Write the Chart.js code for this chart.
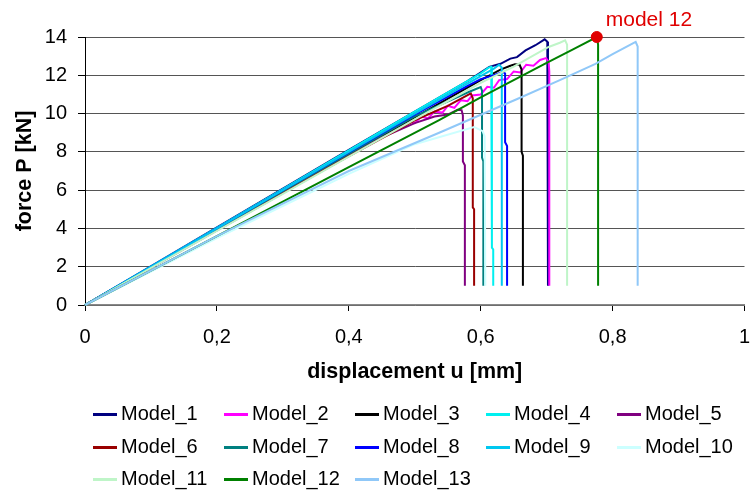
<!DOCTYPE html>
<html>
<head>
<meta charset="utf-8">
<script src="https://cdn.jsdelivr.net/npm/chart.js@4.4.1/dist/chart.umd.min.js"></script>
<style>
  body { margin: 0; background: #fff; }
  #wrap { position: relative; width: 751px; height: 490px; }
  #legend { position: absolute; left: 0; top: 0; font: 20px "Liberation Sans", Arial, sans-serif; color: #000; }
  .item { position: absolute; height: 24px; line-height: 24px; white-space: nowrap; }
  .item i { display: inline-block; width: 24px; height: 3px; vertical-align: middle; margin-right: 4px; }
</style>
</head>
<body>
<div id="wrap">
  <canvas id="chart" width="751" height="490"></canvas>
  <div id="legend"></div>
</div>
<script>
// displacement u [mm], force P [kN]
var MODEL_1 = [[0,0],[0.2,4.05],[0.4,8.1],[0.5,10.1],[0.58,11.7],[0.613,12.44],[0.63,12.6],[0.645,12.87],[0.655,12.95],[0.668,13.3],[0.683,13.57],[0.697,13.88],[0.701,13.75],[0.702,13.3],[0.702,1.0]];
var MODEL_2 = [[0,0],[0.3,5.85],[0.42,8.3],[0.45,8.85],[0.47,9.1],[0.49,9.6],[0.5,9.5],[0.51,9.85],[0.52,9.75],[0.53,10.1],[0.542,10.05],[0.55,10.4],[0.56,10.3],[0.57,10.7],[0.58,10.65],[0.587,10.95],[0.6,11.0],[0.61,11.4],[0.62,11.35],[0.628,11.75],[0.64,11.8],[0.65,12.2],[0.66,12.15],[0.669,12.55],[0.68,12.5],[0.69,12.8],[0.699,12.9],[0.703,12.7],[0.704,12.2],[0.704,1.0]];
var MODEL_3 = [[0,0],[0.3,5.9],[0.5,9.8],[0.6,11.75],[0.63,12.3],[0.645,12.5],[0.652,12.58],[0.659,12.55],[0.662,12.3],[0.662,8.0],[0.664,7.8],[0.664,1.0]];
var MODEL_4 = [[0,0],[0.3,6.05],[0.5,10.1],[0.6,12.1],[0.612,12.4],[0.616,12.44],[0.617,12.2],[0.617,3.0],[0.619,2.9],[0.619,1.0]];
var MODEL_5 = [[0,0],[0.3,5.85],[0.45,8.75],[0.5,9.5],[0.53,9.85],[0.55,9.95],[0.565,10.2],[0.571,10.18],[0.573,9.9],[0.573,7.5],[0.576,7.3],[0.576,1.0]];
var MODEL_6 = [[0,0],[0.3,5.9],[0.5,9.65],[0.55,10.4],[0.585,11.05],[0.588,10.8],[0.588,5.1],[0.59,5.0],[0.59,1.0]];
var MODEL_7 = [[0,0],[0.3,5.95],[0.5,9.85],[0.58,11.1],[0.6,11.39],[0.602,11.2],[0.602,7.7],[0.604,7.5],[0.604,1.0]];
var MODEL_8 = [[0,0],[0.3,6.0],[0.5,9.95],[0.58,11.45],[0.6,11.8],[0.62,12.0],[0.634,12.18],[0.637,12.1],[0.637,8.5],[0.64,8.3],[0.64,1.0]];
var MODEL_9 = [[0,0],[0.3,6.0],[0.5,10.0],[0.6,11.95],[0.62,12.35],[0.628,12.55],[0.632,12.4],[0.632,1.0]];
var MODEL_10 = [[0,0],[0.2,3.5],[0.4,6.85],[0.5,8.4],[0.59,9.3],[0.603,9.08],[0.606,8.8],[0.607,1.0]];
var MODEL_11 = [[0,0],[0.3,5.8],[0.5,9.7],[0.6,11.6],[0.65,12.45],[0.703,13.48],[0.72,13.7],[0.728,13.83],[0.731,13.6],[0.731,1.0]];
var MODEL_12 = [[0,0],[0.2,3.6],[0.4,7.2],[0.537,9.66],[0.6,10.85],[0.65,11.75],[0.7,12.65],[0.74,13.35],[0.776,14.0],[0.778,13.6],[0.778,1.0]];
var MODEL_13 = [[0,0],[0.2,3.6],[0.4,7.0],[0.537,9.0],[0.658,10.8],[0.72,11.75],[0.774,12.6],[0.8,13.1],[0.835,13.74],[0.838,13.5],[0.838,1.0]];

var SERIES = [MODEL_1, MODEL_2, MODEL_3, MODEL_4, MODEL_5, MODEL_6, MODEL_7, MODEL_8, MODEL_9, MODEL_10, MODEL_11, MODEL_12, MODEL_13];
var NAMES = ['Model_1','Model_2','Model_3','Model_4','Model_5','Model_6','Model_7','Model_8','Model_9','Model_10','Model_11','Model_12','Model_13'];
var COLORS = ['#000080','#ff00ff','#000000','#00f0f0','#800080','#990000','#008080','#0000ff','#00c8f0','#ccffff','#bff5c8','#008000','#90c8f8'];

var PEAK_12 = [0.776, 14.0];
var PEAK_LABEL = 'model 12';

var FONT = '"Liberation Sans", Arial, sans-serif';

function comma(v) {
  return String(Math.round(v * 10) / 10).replace('.', ',');
}

var datasets = SERIES.map(function(s, i) {
  return {
    label: NAMES[i],
    data: s.map(function(p) { return {x: p[0], y: p[1]}; }),
    borderColor: COLORS[i],
    borderWidth: 2,
    pointRadius: 0,
    tension: 0,
    fill: false,
    clip: false,
    order: NAMES.length - i
  };
});

// red marker on the highest peak
datasets.push({
  label: PEAK_LABEL,
  data: [{x: PEAK_12[0], y: PEAK_12[1]}],
  showLine: false,
  pointRadius: 5.5,
  pointBackgroundColor: '#e00000',
  pointBorderColor: '#e00000',
  clip: false,
  order: -1
});

var peakLabel = {
  id: 'peakLabel',
  afterDatasetsDraw: function(chart) {
    var ctx = chart.ctx,
        px = chart.scales.x.getPixelForValue(PEAK_12[0]),
        py = chart.scales.y.getPixelForValue(PEAK_12[1]);
    ctx.save();
    ctx.font = '21px ' + FONT;
    ctx.fillStyle = '#e00000';
    ctx.textAlign = 'left';
    ctx.textBaseline = 'middle';
    ctx.fillText(PEAK_LABEL, px + 9, py - 17);
    ctx.restore();
  }
};

new Chart(document.getElementById('chart'), {
  type: 'line',
  data: { datasets: datasets },
  options: {
    responsive: false,
    animation: false,
    layout: { padding: { top: 37, right: 5, bottom: 105, left: 0 } },
    plugins: { legend: { display: false }, tooltip: { enabled: false } },
    scales: {
      x: {
        type: 'linear',
        min: 0,
        max: 1,
        ticks: { stepSize: 0.2, color: '#000', font: { size: 20, family: FONT }, padding: 14, maxRotation: 0, callback: comma },
        grid: { drawOnChartArea: false, tickLength: 6, tickColor: '#000' },
        border: { color: '#888', width: 1.5 },
        title: { display: true, text: 'displacement u [mm]', color: '#000', font: { size: 21.5, weight: 'bold', family: FONT }, padding: { top: 0, bottom: 0 } },
        afterFit: function(s) { s.height = 80; s.paddingLeft = 0; s.paddingRight = 0; }
      },
      y: {
        min: 0,
        max: 14,
        ticks: { stepSize: 2, color: '#000', font: { size: 20, family: FONT }, padding: 11 },
        grid: { color: '#555', tickLength: 7, tickColor: '#000' },
        border: { color: '#000', width: 1 },
        title: { display: true, text: 'force P [kN]', color: '#000', font: { size: 21.5, weight: 'bold', family: FONT }, padding: { top: 12, bottom: 0 } },
        afterFit: function(s) { s.width = 85; s.paddingTop = 0; s.paddingBottom = 0; }
      }
    }
  },
  plugins: [peakLabel]
});

// legend laid out as a 5 column grid like the original
var ROW_Y = [413, 446, 478];
var legend = document.getElementById('legend');
NAMES.forEach(function(name, i) {
  var col = i % 5, row = Math.floor(i / 5);
  var el = document.createElement('div');
  el.className = 'item';
  el.style.left = (93 + col * 131) + 'px';
  el.style.top = (ROW_Y[row] - 12) + 'px';
  el.innerHTML = '<i style="background:' + COLORS[i] + '"></i>' + name;
  legend.appendChild(el);
});
</script>
</body>
</html>
